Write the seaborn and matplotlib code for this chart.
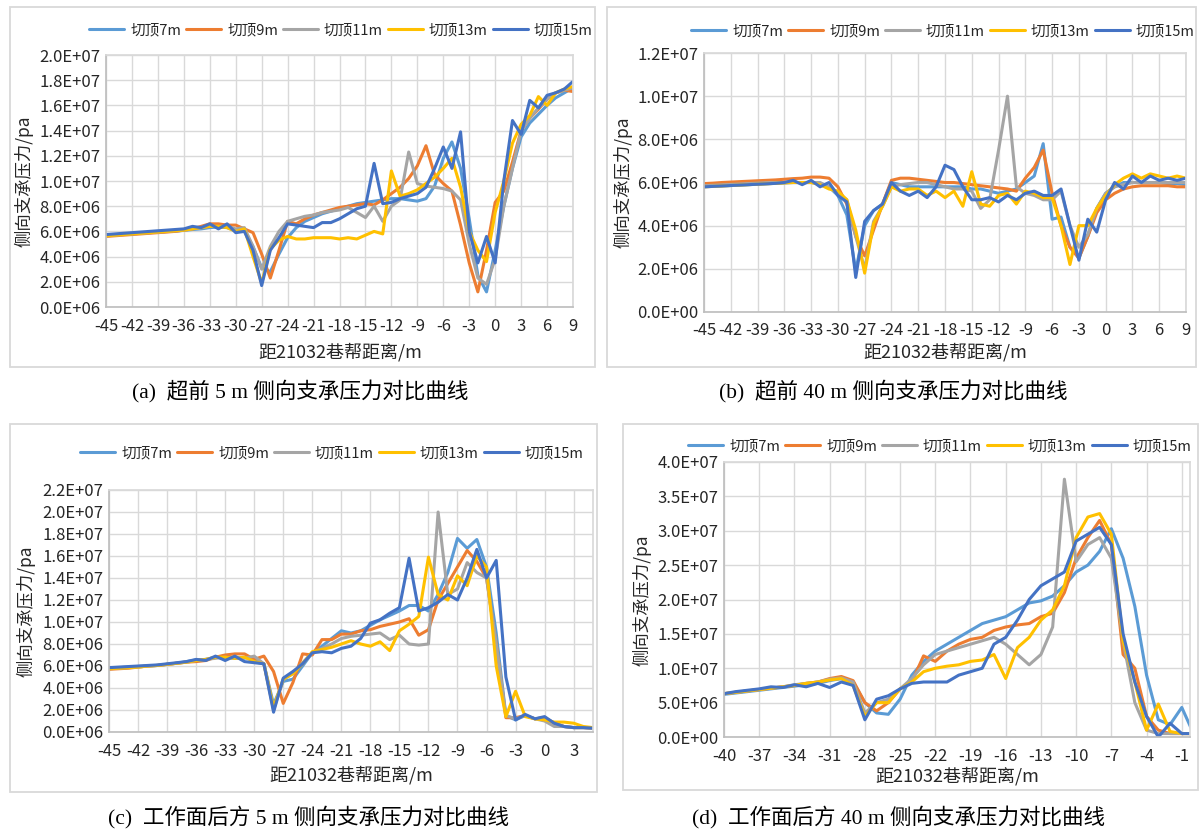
import numpy as np
import pandas as pd
import matplotlib
matplotlib.use('Agg')
import matplotlib.pyplot as plt
from matplotlib.patches import Rectangle
import seaborn as sns

### data  (side abutment pressure, unit 1e6 Pa)
series_names = ['切顶7m', '切顶9m', '切顶11m', '切顶13m', '切顶15m']
series_colors = ['#5B9BD5', '#ED7D31', '#A5A5A5', '#FFC000', '#4472C4']

# (a) 5 m ahead
x_a = np.arange(-45, 10)
a_7m = [5.70, 5.74, 5.78, 5.82, 5.86, 5.90, 5.94, 5.98, 6.02, 6.08,
        6.15, 6.20, 6.30, 6.35, 6.30, 6.05, 6.10, 4.80, 3.10, 2.80,
        4.20, 5.50, 6.30, 6.80, 7.10, 7.40, 7.60, 7.80, 8.00, 8.20,
        8.30, 8.40, 8.50, 8.60, 8.60, 8.50, 8.40, 8.60, 9.60, 11.8,
        13.1, 11.0, 7.00, 2.50, 1.20, 4.50, 8.00, 11.0, 13.5, 14.6,
        15.3, 16.0, 16.6, 17.0, 17.4]
a_9m = [5.60, 5.65, 5.70, 5.75, 5.80, 5.85, 5.90, 5.95, 6.00, 6.10,
        6.20, 6.40, 6.60, 6.60, 6.50, 6.50, 6.20, 5.90, 4.20, 2.30,
        4.50, 6.80, 6.60, 7.00, 7.30, 7.50, 7.70, 7.90, 8.00, 8.10,
        8.20, 8.10, 8.50, 9.00, 9.50, 10.2, 11.2, 12.8, 10.5, 9.80,
        9.20, 6.50, 3.50, 1.20, 4.50, 8.30, 9.20, 11.5, 14.0, 15.0,
        15.7, 16.5, 17.0, 17.2, 17.1]
a_11m = [5.65, 5.70, 5.75, 5.80, 5.85, 5.90, 5.95, 6.00, 6.05, 6.10,
         6.20, 6.30, 6.40, 6.40, 6.40, 6.20, 6.30, 4.80, 3.00, 4.80,
         6.00, 6.80, 7.00, 7.20, 7.30, 7.50, 7.60, 7.70, 7.90, 7.50,
         7.10, 8.00, 6.80, 8.00, 8.50, 12.3, 9.80, 9.60, 9.50, 9.40,
         9.20, 8.50, 5.00, 2.30, 1.80, 3.80, 8.00, 11.0, 14.0, 15.0,
         15.8, 16.5, 17.0, 17.2, 17.4]
a_13m = [5.65, 5.70, 5.75, 5.80, 5.85, 5.90, 5.95, 6.00, 6.05, 6.10,
         6.20, 6.30, 6.40, 6.40, 6.30, 6.00, 6.20, 4.00, 1.90, 4.60,
         5.30, 5.60, 5.40, 5.40, 5.50, 5.50, 5.50, 5.40, 5.50, 5.40,
         5.70, 6.00, 5.80, 10.8, 8.80, 9.00, 9.30, 9.80, 10.3, 11.0,
         11.8, 9.50, 6.00, 4.50, 3.60, 7.50, 10.0, 13.0, 14.5, 15.2,
         16.7, 16.0, 17.0, 17.3, 17.5]
a_15m = [5.75, 5.80, 5.85, 5.90, 5.95, 6.00, 6.05, 6.10, 6.15, 6.20,
         6.40, 6.30, 6.60, 6.20, 6.60, 5.90, 6.00, 4.50, 1.70, 4.50,
         5.50, 6.60, 6.50, 6.40, 6.30, 6.70, 6.70, 7.00, 7.40, 7.80,
         8.00, 11.4, 8.20, 8.30, 8.60, 8.80, 9.00, 9.50, 11.0, 12.7,
         11.0, 13.9, 6.00, 3.50, 5.60, 3.50, 10.0, 14.8, 13.7, 16.4,
         15.8, 16.8, 17.0, 17.3, 17.9]

# (b) 40 m ahead
x_b = np.arange(-45, 10)
b_7m = [5.80, 5.82, 5.84, 5.86, 5.88, 5.90, 5.92, 5.94, 5.96, 5.98,
        6.00, 6.00, 6.00, 5.95, 5.80, 5.40, 4.50, 1.90, 4.00, 4.70,
        5.00, 6.00, 5.90, 5.80, 5.80, 5.80, 5.80, 5.80, 5.80, 5.80,
        5.70, 5.70, 5.60, 5.50, 5.60, 5.70, 6.00, 6.30, 7.80, 4.30,
        4.40, 3.00, 2.50, 3.50, 4.80, 5.50, 5.80, 6.00, 6.00, 6.00,
        6.00, 6.00, 5.95, 5.95, 5.90]
b_9m = [5.95, 5.97, 6.00, 6.02, 6.04, 6.06, 6.08, 6.10, 6.12, 6.15,
        6.18, 6.20, 6.25, 6.25, 6.20, 5.80, 5.00, 3.50, 2.60, 3.80,
        5.00, 6.10, 6.20, 6.20, 6.15, 6.10, 6.05, 6.00, 6.00, 5.95,
        5.90, 5.85, 5.80, 5.75, 5.70, 5.60, 6.20, 6.70, 7.50, 5.50,
        4.00, 3.00, 2.50, 3.50, 4.60, 5.20, 5.50, 5.70, 5.80, 5.85,
        5.85, 5.85, 5.85, 5.80, 5.80]
b_11m = [5.85, 5.87, 5.89, 5.91, 5.93, 5.95, 5.97, 5.99, 6.00, 6.00,
         6.00, 6.00, 6.00, 6.00, 5.80, 5.50, 5.20, 3.50, 2.00, 4.20,
         4.90, 5.80, 5.90, 5.95, 6.00, 6.00, 5.90, 5.80, 5.70, 5.70,
         5.60, 4.80, 5.20, 7.50, 10.0, 5.80, 5.50, 5.40, 5.20, 5.20,
         5.60, 4.00, 3.00, 3.60, 4.80, 5.50, 5.80, 5.90, 6.00, 6.00,
         6.00, 6.00, 6.00, 6.00, 6.00]
b_13m = [5.80, 5.82, 5.84, 5.86, 5.88, 5.90, 5.92, 5.94, 5.96, 5.98,
         6.00, 6.00, 6.00, 5.90, 5.70, 5.60, 5.20, 3.80, 1.80, 4.10,
         4.90, 5.80, 5.60, 5.70, 5.70, 5.40, 5.60, 5.30, 5.60, 4.90,
         6.50, 5.00, 4.90, 5.40, 5.50, 5.00, 5.60, 5.50, 5.30, 5.30,
         4.00, 2.20, 4.00, 4.00, 4.80, 5.40, 5.90, 6.20, 6.40, 6.20,
         6.40, 6.30, 6.20, 6.30, 6.20]
b_15m = [5.80, 5.82, 5.84, 5.86, 5.88, 5.90, 5.92, 5.94, 5.96, 6.00,
         6.10, 5.90, 6.10, 5.80, 6.00, 5.40, 5.10, 1.60, 4.20, 4.70,
         5.00, 6.00, 5.60, 5.40, 5.60, 5.30, 5.80, 6.80, 6.60, 5.80,
         5.20, 5.20, 5.30, 5.10, 5.40, 5.20, 5.50, 5.60, 5.40, 5.40,
         5.70, 4.00, 2.40, 4.30, 3.70, 5.20, 6.00, 5.70, 6.30, 6.00,
         6.30, 6.10, 6.20, 6.10, 6.20]

# (c) 5 m behind face
x_c = np.arange(-45, 6)
c_7m = [5.80, 5.85, 5.90, 5.95, 6.00, 6.05, 6.15, 6.25, 6.40, 6.55,
        6.60, 6.80, 6.80, 6.70, 6.80, 6.60, 6.20, 2.50, 4.60, 4.80,
        6.00, 7.20, 7.80, 8.50, 9.20, 9.00, 9.20, 9.70, 10.2, 10.6,
        11.0, 11.5, 11.5, 11.0, 12.5, 14.5, 17.6, 16.7, 17.5, 15.0,
        9.00, 1.50, 1.10, 1.50, 1.20, 1.30, 0.80, 0.50, 0.40, 0.40,
        0.35]
c_9m = [5.70, 5.75, 5.80, 5.90, 6.00, 6.05, 6.15, 6.25, 6.35, 6.40,
        6.50, 6.80, 7.00, 7.10, 7.10, 6.60, 6.90, 5.50, 2.60, 4.50,
        7.10, 7.00, 8.40, 8.40, 8.90, 8.90, 9.20, 9.30, 9.60, 9.80,
        10.0, 10.3, 8.80, 9.30, 12.0, 13.5, 15.0, 16.5, 15.5, 14.0,
        8.00, 1.30, 1.30, 1.50, 1.20, 1.30, 0.80, 0.50, 0.40, 0.40,
        0.35]
c_11m = [5.75, 5.80, 5.85, 5.90, 6.00, 6.05, 6.15, 6.25, 6.35, 6.50,
         6.60, 6.70, 6.80, 6.70, 6.70, 6.90, 6.20, 2.00, 4.80, 5.30,
         6.30, 7.20, 7.60, 8.00, 8.50, 8.70, 8.80, 8.90, 9.00, 8.40,
         8.80, 8.00, 7.90, 8.00, 20.0, 12.5, 13.0, 15.4, 14.5, 14.0,
         8.00, 1.50, 1.20, 1.50, 1.20, 1.00, 0.50, 0.50, 0.40, 0.40,
         0.35]
c_13m = [5.75, 5.80, 5.85, 5.90, 6.00, 6.05, 6.15, 6.25, 6.35, 6.50,
         6.60, 6.80, 6.80, 6.70, 6.80, 6.40, 6.20, 2.20, 4.80, 5.30,
         6.20, 7.30, 7.50, 7.70, 8.00, 8.30, 8.00, 7.80, 8.20, 7.40,
         9.20, 9.80, 10.5, 15.9, 12.5, 12.0, 14.2, 13.3, 16.0, 15.0,
         6.00, 1.40, 3.70, 1.40, 1.20, 1.10, 0.90, 0.90, 0.80, 0.50,
         0.40]
c_15m = [5.85, 5.90, 5.95, 6.00, 6.05, 6.10, 6.20, 6.30, 6.40, 6.60,
         6.50, 6.90, 6.50, 6.90, 6.40, 6.30, 6.20, 1.80, 4.90, 5.50,
         6.20, 7.20, 7.30, 7.20, 7.60, 7.80, 8.50, 9.90, 10.2, 10.8,
         11.3, 15.8, 11.0, 11.3, 11.8, 12.5, 12.0, 14.0, 16.6, 14.0,
         15.6, 5.00, 1.10, 1.60, 1.20, 1.40, 0.80, 0.50, 0.40, 0.40,
         0.35]

# (d) 40 m behind face
x_d = np.arange(-40, 1)
d_7m = [6.2, 6.4, 6.6, 6.8, 7.0, 7.2, 7.4, 7.6, 7.8, 8.2,
        8.5, 8.0, 5.0, 3.5, 3.3, 5.5, 9.0, 11.0, 12.5, 13.5,
        14.5, 15.5, 16.5, 17.0, 17.5, 18.5, 19.5, 19.8, 20.5, 22.0,
        24.0, 25.0, 27.0, 30.3, 26.0, 19.0, 9.0, 2.5, 1.8, 4.3,
        0.5]
d_9m = [6.3, 6.5, 6.7, 6.9, 7.1, 7.3, 7.5, 7.8, 8.0, 8.5,
        8.8, 8.2, 5.0, 3.8, 5.0, 7.0, 8.0, 11.8, 11.0, 12.5,
        13.5, 14.2, 14.5, 15.5, 16.0, 16.3, 16.5, 17.5, 18.0, 21.0,
        26.0, 29.0, 31.5, 28.0, 12.0, 10.0, 3.0, 1.0, 0.5, 0.5,
        0.5]
d_11m = [6.3, 6.5, 6.7, 6.9, 7.1, 7.3, 7.6, 7.8, 8.0, 8.4,
         8.6, 8.0, 3.5, 5.0, 5.5, 7.0, 8.5, 10.5, 12.0, 12.5,
         13.0, 13.5, 14.0, 14.5, 13.5, 12.0, 10.5, 12.0, 16.0, 37.5,
         25.5, 28.0, 29.0, 26.0, 14.0, 5.0, 1.0, 0.5, 0.5, 0.5,
         0.5]
d_13m = [6.3, 6.5, 6.7, 6.9, 7.1, 7.3, 7.5, 7.8, 8.0, 8.3,
         8.5, 7.5, 3.0, 5.0, 5.0, 7.0, 8.0, 9.5, 10.0, 10.3,
         10.5, 11.0, 11.2, 12.0, 8.5, 13.0, 14.5, 17.0, 18.5, 22.0,
         29.0, 32.0, 32.5, 29.5, 14.0, 8.0, 1.0, 4.8, 0.8, 0.5,
         0.5]
d_15m = [6.3, 6.6, 6.8, 7.0, 7.3, 7.2, 7.6, 7.3, 7.8, 7.2,
         8.0, 7.5, 2.5, 5.5, 6.0, 7.0, 7.8, 8.0, 8.0, 8.0,
         9.0, 9.5, 10.0, 13.5, 14.5, 17.0, 20.0, 22.0, 23.0, 24.0,
         28.5, 29.5, 30.5, 28.0, 15.0, 8.0, 3.0, 0.0, 2.0, 0.5,
         0.5]

# ticks
xticks_ab = np.arange(-45, 10, 3)
xticks_c = np.arange(-45, 4, 3)
xticks_d = np.arange(-40, 0, 3)
yticks_a = np.arange(0, 2.1e7, 2e6)
ylabels_a = ['0.0E+06', '2.0E+06', '4.0E+06', '6.0E+06', '8.0E+06', '1.0E+07',
             '1.2E+07', '1.4E+07', '1.6E+07', '1.8E+07', '2.0E+07']
yticks_b = np.arange(0, 1.3e7, 2e6)
ylabels_b = ['0.0E+00', '2.0E+06', '4.0E+06', '6.0E+06', '8.0E+06', '1.0E+07', '1.2E+07']
yticks_c = np.arange(0, 2.3e7, 2e6)
ylabels_c = ['0.0E+06', '2.0E+06', '4.0E+06', '6.0E+06', '8.0E+06', '1.0E+07',
             '1.2E+07', '1.4E+07', '1.6E+07', '1.8E+07', '2.0E+07', '2.2E+07']
yticks_d = np.arange(0, 4.1e7, 5e6)
ylabels_d = ['0.0E+00', '5.0E+06', '1.0E+07', '1.5E+07', '2.0E+07',
             '2.5E+07', '3.0E+07', '3.5E+07', '4.0E+07']

xlabel_text = '距21032巷帮距离/m'
ylabel_text = '侧向支承压力/pa'
captions = ['(a)  超前 5 m 侧向支承压力对比曲线', '(b)  超前 40 m 侧向支承压力对比曲线',
            '(c)  工作面后方 5 m 侧向支承压力对比曲线', '(d)  工作面后方 40 m 侧向支承压力对比曲线']

#%% figure
sns.set_theme(style='white')
plt.rcParams['font.family'] = ['Noto Sans CJK SC', 'DejaVu Sans']
plt.rcParams['axes.unicode_minus'] = False

W, H = 1203, 831
fig = plt.figure(figsize=(W / 100, H / 100), dpi=100)
fig.patch.set_facecolor('white')


def fx(px):
    return px / W


def fy(py):
    return 1 - py / H


def make_df(x, series):
    frames = []
    for name, vals in zip(series_names, series):
        frames.append(pd.DataFrame({'x': x, 'y': np.array(vals) * 1e6, 'series': name}))
    return pd.concat(frames, axis=0, ignore_index=True)


def draw_panel(box, plot, x, series, xticks, xlim, yticks, ylabels, xpad,
               legend_xy, xlabel_xy, ylabel_xy, caption, caption_xy):
    # frame around the panel
    x0, y0, x1, y1 = box
    fig.patches.append(Rectangle((fx(x0), fy(y1)), fx(x1) - fx(x0), fy(y0) - fy(y1),
                                 transform=fig.transFigure, fill=False,
                                 edgecolor='#D9D9D9', lw=1.3))
    l, t, r, b = plot
    ax = fig.add_axes([fx(l), fy(b), fx(r) - fx(l), fy(t) - fy(b)])
    df = make_df(x, series)
    sns.lineplot(data=df, x='x', y='y', hue='series', palette=series_colors,
                 hue_order=series_names, linewidth=2.2, ax=ax, legend=True)
    for ln in ax.lines:
        ln.set_solid_joinstyle('round')
        ln.set_solid_capstyle('round')
    handles, labels = ax.get_legend_handles_labels()
    ax.get_legend().remove()
    fig.legend(handles, labels, loc='center', bbox_to_anchor=(fx(legend_xy[0]), fy(legend_xy[1])),
               ncol=5, frameon=False, fontsize=10.5, handlelength=2.4,
               handletextpad=0.4, columnspacing=0.35)
    ax.set_xlim(*xlim)
    ax.set_ylim(yticks[0], yticks[-1])
    ax.set_xticks(xticks)
    ax.set_xticklabels([str(v) for v in xticks])
    ax.set_yticks(yticks)
    ax.set_yticklabels(ylabels)
    ax.tick_params(axis='both', length=0, labelsize=12, colors='#262626')
    ax.tick_params(axis='x', pad=xpad)
    ax.tick_params(axis='y', pad=4)
    ax.grid(True, color='#D9D9D9', lw=1.0)
    ax.set_axisbelow(True)
    for side in ['top', 'right']:
        ax.spines[side].set_color('#D9D9D9')
    for side in ['left', 'bottom']:
        ax.spines[side].set_color('#BFBFBF')
    ax.set_xlabel('')
    ax.set_ylabel('')
    fig.text(fx(xlabel_xy[0]), fy(xlabel_xy[1]), xlabel_text, ha='center', va='center',
             fontsize=13, color='#262626')
    fig.text(fx(ylabel_xy[0]), fy(ylabel_xy[1]), ylabel_text, ha='center', va='center',
             rotation=90, fontsize=12.5, color='#262626')
    fig.text(fx(caption_xy[0]), fy(caption_xy[1]), caption, ha='center', va='center',
             fontsize=15.5, color='black', family=['Liberation Serif', 'Noto Sans CJK SC'])
    return ax


draw_panel((10, 7, 595, 367), (106, 55, 573, 307), x_a, [a_7m, a_9m, a_11m, a_13m, a_15m],
           xticks_ab, (-45, 9), yticks_a, ylabels_a, 8,
           (341, 30), (340, 352), (24, 181), captions[0], (300, 392))
draw_panel((607, 7, 1196, 367), (704, 53, 1186, 312), x_b, [b_7m, b_9m, b_11m, b_13m, b_15m],
           xticks_ab, (-45, 9), yticks_b, ylabels_b, 7,
           (943, 31), (945, 352), (623, 182), captions[1], (893, 392))
draw_panel((10, 424, 597, 792), (109, 490, 593, 732), x_c, [c_7m, c_9m, c_11m, c_13m, c_15m],
           xticks_c, (-45, 5), yticks_c, ylabels_c, 8,
           (332, 453), (351, 775), (26, 611), captions[2], (308, 818))
draw_panel((623, 424, 1198, 790), (724, 462, 1190, 737), x_d, [d_7m, d_9m, d_11m, d_13m, d_15m],
           xticks_d, (-40, -0.3), yticks_d, ylabels_d, 8,
           (940, 446), (957, 776), (642, 600), captions[3], (898, 818))

fig.savefig('out.png', dpi=100)
